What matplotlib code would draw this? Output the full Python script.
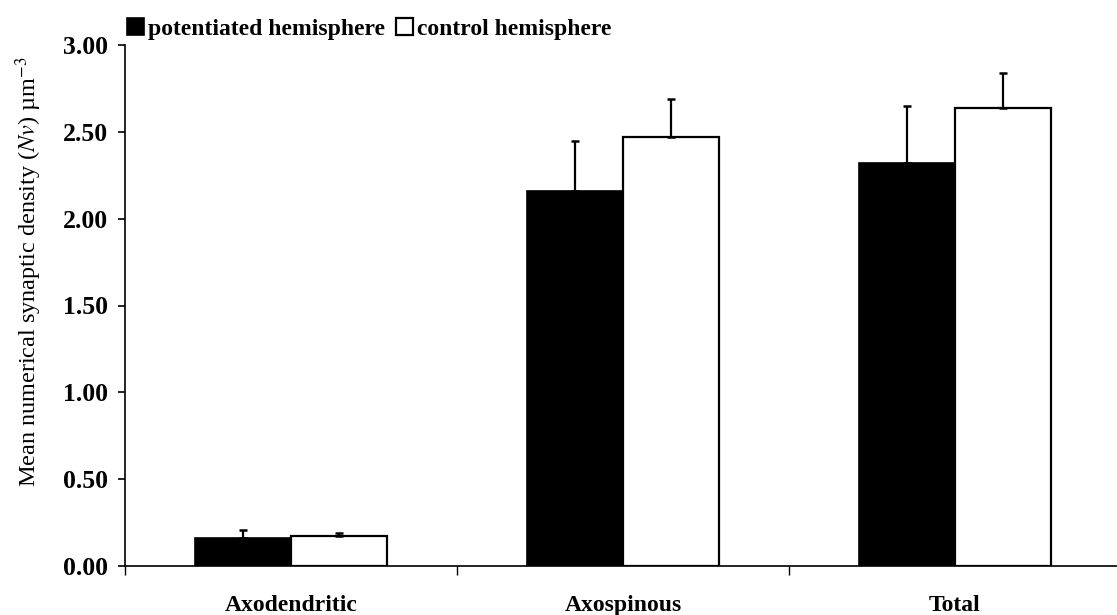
import numpy as np
import matplotlib
matplotlib.use("Agg")
import matplotlib.pyplot as plt

plt.rcParams['font.family'] = ['Liberation Serif', 'DejaVu Serif']
plt.rcParams['mathtext.fontset'] = 'stix'

categories = ['Axodendritic', 'Axospinous', 'Total']
potentiated = [0.16, 2.16, 2.32]
potentiated_err = [0.05, 0.29, 0.33]
control = [0.17, 2.47, 2.64]
control_err = [0.02, 0.22, 0.20]
yticks = [0.0, 0.5, 1.0, 1.5, 2.0, 2.5, 3.0]

fig = plt.figure(figsize=(11.17, 6.15), dpi=100)
ax = fig.add_axes([125 / 1117, 1 - 566 / 615, 996 / 1117, (566 - 45) / 615])

x = np.arange(len(categories))
w = 0.29
ekw = dict(elinewidth=1.6, capthick=1.8, ecolor='black')
b1 = ax.bar(x - w / 2, potentiated, w, color='black', edgecolor='black', linewidth=1.2,
            yerr=[np.zeros(3), potentiated_err], capsize=3.2, error_kw=ekw,
            label='potentiated hemisphere')
b2 = ax.bar(x + w / 2, control, w, color='white', edgecolor='black', linewidth=1.6,
            yerr=[np.zeros(3), control_err], capsize=3.2, error_kw=ekw,
            label='control hemisphere')

ax.set_xlim(-0.5, 2.5)
ax.set_ylim(0, 3.0)
ax.set_yticks(yticks)
ax.set_yticklabels(['%.2f' % v for v in yticks], fontweight='bold', fontsize=18.5)
ax.tick_params(axis='y', direction='out', length=5, width=1.2, pad=7)

# ticks between the groups, labels in the middle of each group
ax.set_xticks([-0.5, 0.5, 1.5])
ax.set_xticklabels([])
ax.tick_params(axis='x', which='major', direction='out', length=6.5, width=1.0)
ax.set_xticks(x, minor=True)
ax.set_xticklabels(categories, minor=True, fontweight='bold', fontsize=17)
ax.tick_params(axis='x', which='minor', length=0, pad=21)

for s in ['top', 'right']:
    ax.spines[s].set_visible(False)
ax.spines['left'].set_linewidth(1.2)
ax.spines['bottom'].set_linewidth(1.2)

ax.set_ylabel('Mean numerical synaptic density ($\\mathit{Nv}$) µm$^{-3}$', fontsize=17.5)
ax.yaxis.set_label_coords(-0.081, 0.565)

ax.legend(handles=[b1, b2], loc='center left', bbox_to_anchor=(127 / 1117, 1 - 29 / 615),
          bbox_transform=fig.transFigure, ncol=2, frameon=False,
          prop=dict(weight='bold', size=17), handlelength=0.72, handleheight=0.72,
          handletextpad=0.17, columnspacing=0.45, borderaxespad=0, borderpad=0)

fig.savefig('out.png', dpi=100)
